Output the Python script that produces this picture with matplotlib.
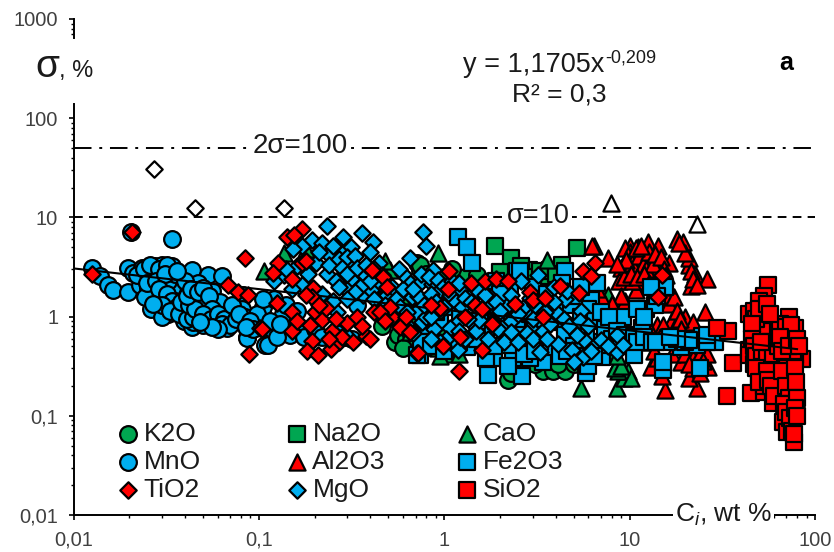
import matplotlib
matplotlib.use('Agg')
import matplotlib.pyplot as plt
from matplotlib.legend import Legend

plt.rcParams['font.family'] = ['Liberation Sans', 'DejaVu Sans']
plt.rcParams['mathtext.fontset'] = 'custom'
plt.rcParams['mathtext.rm'] = 'Liberation Sans'
plt.rcParams['mathtext.it'] = 'Liberation Sans:italic'

# values: C_i (wt %), sigma (%)
k2o_x = [.46, .54, .71, .74, .74, 1.21, 2.2, 3.43, 3.85, 4.5, .68, 4.7, .98, .84,
         .56, .62, .7, .6, .75, .65, .8, 1, 1.3, 2.3, 3.1, 4.1, 5, 1.5, 1.1]
k2o_y = [.81, .56, 3.5, 2.98, 3.35, 2.37, .23, .28, .28, .28, .61, .55, .77, 1.42,
         .65, .6, .55, .48, .48, .7, 2.7, 2.5, 2.5, .27, .33, .33, .33, 2.6, 3.0]

na2o_x = [1.88, 5.2, 2.3, 2.85, 3.7, 4.3, 3.65, 2.25, 2, 2.6, 3, 3.3, 4]
na2o_y = [5.1, 4.9, 3.94, 2.98, 2.98, 3.35, 2.54, 2.66, 2.8, 3.2, 2.5, 2.9, 2.7]

cao_x = [.107, .137, .51, .59, .76, .93, 3.6, .77, .84, 5.5, .87, 8.6, 9.3, 9.8, 8.7, 10.2, 8.7, 7.6, 6.9, 7.0,
         .18, .48, .43, .55, .62, .68, .8, .85, .9, .93, 1, 1.05, .95, 1.2, .65, .72, 7.2, 8.3, 9, 7.6, 8, 8.5]
cao_y = [2.85, 4.4, 2.98, 1.59, .66, 4.4, 3.76, .66, .49, .19, .89, .19, .24, .28, .28, .24, .35, 1.67, 1.0, 1.32,
         4.8, 3.6, 2.3, 1.25, 1.1, .95, 1.05, .72, .62, .48, .55, .42, .4, .42, .7, 1.35, 1.15, .3, .32, 1.1, .45, .4]

mno_x = [.0126, .0139, .0154, .0163, .0197, .0209, .0234, .0275, .03, .034, .0197, .0228, .0252, .0275,
         .0297, .0262, .0323, .0384, .0373, .034, .0435, .0532, .047, .056, .0632, .0617, .0393, .0435,
         .0441, .07, .0851, .0532, .0595, .0672, .0743, .0862, .0822, .104, .108, .034, .0204, .0398,
         .047, .0352, .03, .0243, .0323, .0252, .0352, .0398, .0435, .05, .0715, .081, .084, .086, .105,
         .112, .119, .098, .135, .147, .172, .317, .34,
         .022, .024, .026, .029, .032, .025, .028, .031, .036, .029, .032, .034, .036, .03, .027, .033, .037,
         .041, .044, .038, .042, .045, .041, .043, .047, .05, .054, .056, .05, .055, .06, .065, .063, .07,
         .075, .072, .078, .09, .093, .085, .06, .05, .056, .048, .115, .125, .13, .16, .175, .2, .14, .16,
         .22, .26, .29, .12, .105]
mno_y = [3.12, 2.54, 2.1, 1.87, 3.12, 2.78, 3.12, 3.2, 3.35, 3.2, 1.75, 2.1, 1.92, 2.54, 1.52, 1.18, 1.07,
         1.59, 1.79, 1.96, 2.98, 2.6, 2.2, 1.83, 2.54, 1.39, .91, .79, .89, .93, .98, 1.05, .87, .77, 1.18,
         .63, 1.67, 1.12, .52, 6.0, 7.2, 1.18, 1.39, 1.42, .98, 1.56, 2.26, 2.85, 2.66, 2.26, 1.67, 1.48,
         1.1, 1.18, .98, .61, 1.26, .52, .74, 1.05, 1.05, .66, .66, .59, 1.32,
         2.6, 3.0, 3.3, 3.0, 3.3, 2.2, 2.3, 2.7, 2.9, 1.9, 1.7, 1.45, 1.25, 1.3, 1.35, 1.15, 1.05,
         .95, 1.0, 1.4, 1.3, 1.2, 1.6, 1.9, 1.75, 1.95, 1.6, 1.2, 1.05, .95, 1.05, .95, .85, .82,
         .95, 1.3, 1.05, .9, .75, .78, .75, .82, .78, .88, .9, .62, .85, .8, .62, .75, 1.3, 1.15,
         .62, .68, .62, 1.5, 1.5]

al2o3_x = [6.4, 7.6, 10.1, 12.5, 14.3, 18, 19.4, 11.1, 9.9, 13.1, 16.3, 21, 22.5, 26, 21.4, 10.8, 16.4, 9.4,
           8, 25.4, 20, 22, 17, 14, 15.2, 15.5, 23, 13, 21, 26.5, 19, 10.5, 9, 8.8, 12, 14, 14.3, 11.6,
           10.3, 16.2, 17.3, 21, 10, 11.1, 24, 6.3,
           9.5, 9.8, 10.3, 10.6, 11.3, 11.8, 12.3, 12.8, 13.3, 13.7, 14.7, 15.3, 15.8, 9.3, 9.6, 10.2, 11, 12,
           12.7, 13.5, 14.5, 15, 16, 8.6, 10.8, 11.5, 20, 21.5, 22, 23, 18.5, 7, 6.7, 9, 17.5, 18, 18.8, 19,
           13, 14.5, 11, 12, 17, 20, 22, 24, 26, 14, 13.5, 15, 22, 24, 25, 21, 8, 6, 6.5]
al2o3_y = [5.1, 3.94, 5.1, 5.6, 5.1, 6.1, 5.7, 3.5, 2.85, 2.54, 3.5, 3.35, 2.66, 2.37, 2.05, 1.87, 1.35, 1.42,
           1.35, 1.12, 1.0, .89, .93, .83, .83, .18, .19, .31, .24, .31, .35, 4, 3.1, 2.26, 4, 3.6, 3,
           2.26, 2.26, 1.67, 1.56, 3.94, 4.5, 5, .37, 5.1,
           4.9, 4.2, 3.5, 3.1, 4.1, 3.3, 3.0, 4.5, 3.4, 4.3, 4.0, 3.0, 2.6, 2.5, 3.7, 2.7, 2.5, 2.7,
           2.2, 2.1, 2.3, 2.0, 2.1, 3.4, 4.9, 5.2, 4.4, 2.9, 2.4, 2.1, 5.5, 1.6, 1.9, 1.6, .78, 1.15, .95, .75,
           .7, .62, .72, .55, .42, .42, .38, .42, .42, .38, .45, .25, .3, .27, .36, .33, 1.35, 1.4, 1.15]

fe2o3_x = [1.18, 1.33, 1.41, 2.47, 2.57, 4.5, 1.85, 2.35, 1.72, 2.63, 3.43, 5.8, 6.3, 6.2, 1.07, 1.21, 2.25,
           2.47, 3.3, 4.05, 5.2, .74, .72, 1.33, 2.1, 1.67, 3.85, 2.25, 2.9, .95, 1.67, 2.9, .71, 6.7, 9.2,
           12.2, 13.7, 11.6, 12.5, 10, 15.6, 15.1, 15.1, 24, 18.9, 24.6, 23, 28.7, 7.1, 6.7, 16, 7.8, 10.6,
           1.5, 1.7, 1.9, 2.05, 2.2, 2.7, 2.7, 3.1, 3.3, 3.5, 4.2, 4.5, 4.8, 5, 5.5, 5.8, 6, 6.5, 7, 7.4, 7.7,
           8, 8.5, 9, 9.4, 10.5, 11, 11, 12, 12, 13.2, 13.8, 14, 13, 20, 21, 26, 26, 18, 16.5, 3, 3.6, 4.3,
           5, 5.5, 1.9, 1.4, 2, 1, .9, .8, .75, .85, 1, 1.2, 1.5, 1.85, 2.2, 2.7, 3.1, 4.2, 4.6, 5.5, 6, 6.4]
fe2o3_y = [6.4, 5.0, 3.43, 2.91, 2.85, 2.85, .385, .385, .26, .25, .35, .27, .52, 1.48, 1.67, 1.05, 1.87,
           .89, 1.32, .89, .77, .41, 1.42, .49, .98, .66, .49, .52, 1.05, .89, .385, .385, .41, 2.2, .98,
           1.18, 1.32, .77, .56, .55, 2, .29, .35, .3, .49, .64, .52, .55, .39, .56, .55, .52, .41,
           .9, 1.1, .9, 1.25, .75, 1.1, .65, .8, .55, .95, 1.15, .65, 1.3, .5, 1.0, .7, 1.2, .9, 1.1, .75, 1.0,
           .6, .72, .55, .65, .62, .55, 1.2, .98, .62, .56, .56, 1.6, 2, .55, .58, .55, .65, .6, .62, 2.0, 1.7, 2.2,
           1.6, 2, 2.3, 1.7, 1.7, 1.25, 1.1, .8, .55, .5, .45, .55, .6, .5, .32, .42, .45, .4, .45, .4, .32, .4]

sio2_x = [33.5, 36, 33.8, 29.5, 56, 53, 50, 53, 50, 52, 44, 51, 45, 53, 50, 59, 53, 72, 74, 67, 85, 75, 75,
          75, 77, 75, 68, 71, 62, 67, 71, 67, 78, 76, 55, 44, 53, 61, 74, 44, 78, 68, 47,
          47, 48, 50, 46, 46, 47, 48, 52, 55, 48, 55, 50, 56, 58, 60, 57, 59, 63, 63, 65, 67, 69, 71, 73, 66,
          70, 72, 74, 68, 70, 73, 75, 70, 74, 76, 78, 79, 80, 78, 80, 77, 55, 57, 51, 65, 66, 72, 80, 82]
sio2_y = [.16, .34, .71, .77, 2.1, 1.63, 1.42, .89, .71, .56, .46, .33, .17, .175, .24, .135, .2, .98, .61,
          .39, .37, .24, .165, .081, .055, .115, .71, .44, .35, .087, .069, .165, .77, .56, .71, 1.05, 1.12,
          .28, .33, .41, .41, .52, .33,
          1.15, .95, 1.2, .85, .6, .5, .4, .45, .4, .3, .28, .22, .23, .2, .16, .55, .42, .5, .7, .85, .6, .4, .3, .25, .28,
          .2, .15, .13, .13, .11, .095, .07, .78, .82, .45, .3, .22, .15, .12, .1, .065, 1.35, 1.05, .55, .62, .45, .5, .6, .5]

mgo_x = [.233, .36, .286, .415, .193, .17, .315, .40, .28, .203, .445, .31, .233, .136, .183, .12, .315, .365,
         .44, .365, .49, .405, .264, .25, .3, .77, .8, .65, .65, .67, .74, .7, .67, .76, .815, .153, .24,
         .87, .86, 1.22, 1.5, 1.76, 2.2, 2.6, 3.2, 2.65, 4, 4.5, 5.5, .8, .8, 1.18, 1.07, 1.49, 1.8, 1.54,
         1.72, 2.1, 2.8, 3.4, 4.1, 5.7, 4.9, 5.6, 5, 3.3, 1.18, .68, .93, 1.07, 8.6, 8.6,
         .16, .14, .22, .25, .21, .24, .27, .3, .33, .28, .26, .3, .27, .34, .38, .42, .4, .35, .33, .46, .52, .48,
         .42, .3, .22, .17, .15, .55, .58, .6, .6, .57, .63, .72, .78, .85, .9, .95, .75, .83, .92, 1.0, 1.1, 1.15,
         1.0, 1.25, 1.3, 1.4, 1.35, 1.2, 1.3, 1.02, .88, .95, .85, 1.65, 1.9, 2.0, 1.95, 2.3, 2.5, 2.3, 2.5, 3.0,
         3.1, 3.5, 3.7, 3.0, 3.6, 3.9, 4.4, 4.7, 5.2, 5.4, 6, 6.2, 7, 7.6, 9.2, 3.9, 4.6, 2.9, 2.3, 1.65, 1.2, .68,
         .62, .85]
mgo_y = [8.1, 7.0, 6.3, 5.7, 5.9, 5.2, 5.0, 4.5, 4.3, 3.43, 3.5, 3.3, 2.66, 2.6, 2.66, 2.26, 2.37, 2.72,
         2.1, 1.67, 1.67, 1.87, 1.12, 1.42, 1.87, 7.2, 5.1, 3.94, 2.2, 1.56, 2.2, 1.1, .71, .89, 1.32, 4.76, 4.2,
         2.98, 2.15, 1.87, 1.87, 1.59, 1.32, 2.26, 2.6, 1.23, 1.12, 1.52, 1.15, 1.32, .98, .89, .77, .71, .89, .93,
         .59, .55, .69, .71, .53, .58, .46, .39, .35, .44, .46, .69, 1.79, 1.67, .44, .66,
         3.2, 3.0, 5.5, 5.1, 4.5, 3.3, 3.8, 4.0, 4.1, 3.1, 2.3, 2.7, 2.0, 3.1, 3.3, 3, 2.3, 2.0, 1.75, 2.6, 2.0, 1.3,
         1.5, 1.5, 1.7, 2.1, 1.9, 1.5, 1.25, 1.9, 2.7, 3.0, 1.1, 1.6, 1.3, 1.7, 1.4, 1.15, 2.7, 2.5, 2.35, 2.05, 2.3, 1.4,
         1.25, 1.25, 1.55, 1.4, .95, .72, .6, .6, .75, .55, 1.0, 1.25, 1.4, 1.15, .75, .9, 1.05, .7, .55, .95,
         1.3, 1.1, .85, .6, .6, 1.4, .95, .8, .65, .9, .8, .45, .58, .5, .52, 2.0, 1.8, 1.55, 1.65, 1.65, 2.2, 1.9,
         .85, .6]

tio2_x = [.0126, .0207, .084, .068, .077, .0873, .101, .0886, .142, .17, .127, .17, .197, .125, .151, .104,
          .151, .188, .2, .22, .23, .193, .181, .208, .247, .27, .244, .3, .34, .376, .42, .52, .575, .51,
          .71, .193, .41, .47, .49, .151, .119, 1.06, 1.4, 1.65, 1.9, 2.2, 2.9, 3, 5.3, 5.6, 6.5, 6.2, 1.46,
          .95, 1.21, .72, .99, 1.6, 1.2, 1.6, 15, 14.2,
          .21, .18, .16, .26, .28, .24, .32, .36, .4, .45, .48, .62, .65, 1.3, .85, 1.8, 2.4, 3.4, 4.2, 3.5,
          1.05, .18, .155]
tio2_y = [2.66, 7.1, 3.94, 2.1, 1.79, 1.67, .77, .42, 6.3, 7.6, 3.43, 3.5, 1.96, 1.38, 1.12, .75, .71, .83,
          1.12, .93, 1.23, .57, .45, .41, .71, .56, .47, .87, .98, .64, 1.12, 1.0, .79, 1.26, .43, 1.56,
          2.98, 2.48, 2.0, 2.37, 2.78, 2.91, 2.2, 2.26, 2.42, 2.31, 1.79, 1.48, 1.71, 2.91, 3.43, 2.54, 1.32,
          1.23, .63, .43, .5, .46, .28, 1.18, 2.6, 1.56,
          1.3, 1.65, .9, .95, .62, .6, .55, .8, .6, 1.1, .9, 1.0, .7, 1.0, 1.3, .85, 1.35, 1.0, 2.05, 1.55,
          1.9, 3.6, 6.6]

open_diamond_x = [.0272, .0452, .136]
open_diamond_y = [30.5, 12.3, 12.3]
open_triangle_x = [7.9, 23]
open_triangle_y = [13.9, 8.5]

trend_x = [.01, 80]
trend_y = [3.06, .47]

xtick_vals = [.01, .1, 1, 10, 100]
xtick_labels = ['0,01', '0,1', '1', '10', '100']
ytick_vals = [.01, .1, 1, 10, 100, 1000]
ytick_labels = ['0,01', '0,1', '1', '10', '100', '1000']

GREEN = '#00a651'
BLUE = '#00aeef'
RED = '#ff0000'

W, H = 834, 552
fig = plt.figure(figsize=(W / 100, H / 100), dpi=100)
ax = fig.add_axes([73.5 / W, 1 - 515 / H, (815 - 73.5) / W, (515 - 19) / H])
ax.set_xscale('log')
ax.set_yscale('log')
ax.set_xlim(.01, 100)
ax.set_ylim(.01, 1000)


def pts(xs, ys, marker, color, size, z):
    return ax.scatter(xs, ys, marker=marker, s=size, facecolor=color, edgecolor='black',
                      linewidth=1.6, zorder=z, clip_on=False)


h_k = pts(k2o_x, k2o_y, 'o', GREEN, 145, 3)
h_na = pts(na2o_x, na2o_y, 's', GREEN, 140, 3.1)
h_ca = pts(cao_x, cao_y, '^', GREEN, 135, 3.2)
h_mn = pts(mno_x, mno_y, 'o', BLUE, 145, 3.3)
h_al = pts(al2o3_x, al2o3_y, '^', RED, 135, 3.4)
h_fe = pts(fe2o3_x, fe2o3_y, 's', BLUE, 140, 3.5)
h_si = pts(sio2_x, sio2_y, 's', RED, 140, 3.6)
h_mg = pts(mgo_x, mgo_y, 'D', BLUE, 70, 3.7)
h_ti = pts(tio2_x, tio2_y, 'D', RED, 70, 4)
pts(open_diamond_x, open_diamond_y, 'D', 'white', 70, 4)
pts(open_triangle_x, open_triangle_y, '^', 'white', 135, 4)

ax.plot(trend_x, trend_y, color='black', lw=1.5, zorder=3.9)
ax.axhline(50, color='black', lw=1.4, dashes=(9, 4, 1.5, 4), zorder=2)
ax.axhline(10, color='black', lw=1.4, dashes=(4.5, 3.2), zorder=2)

# axis with the gap between 138 and 640
for s in ['top', 'right']:
    ax.spines[s].set_visible(False)
ax.spines['left'].set_bounds(.01, 138)
ax.spines['left'].set_linewidth(1.4)
ax.spines['bottom'].set_linewidth(1.4)
ax.plot([.01, .01], [640, 1000], color='black', lw=1.4, clip_on=False, zorder=2)

y_minor = [m * 10.0 ** e for e in range(-2, 2) for m in range(2, 10)] + [700, 800, 900]
x_minor = [m * 10.0 ** e for e in range(-2, 2) for m in range(2, 10)]
ax.set_xticks(xtick_vals, xtick_labels)
ax.set_yticks(ytick_vals, ytick_labels)
ax.set_xticks(x_minor, minor=True)
ax.set_yticks(y_minor, minor=True)
ax.tick_params(which='major', length=3.5, width=1.2, labelsize=14.5, labelcolor='#404040')
ax.tick_params(which='minor', length=2.2, width=1.0, labelbottom=False, labelleft=False)
ax.tick_params(axis='x', which='major', pad=8)
ax.tick_params(axis='y', which='major', pad=7.5)


def label(px, py, s, size, **kw):
    kw.setdefault('color', '#1a1a1a')
    return fig.text(px / W, 1 - py / H, s, fontsize=size, va='baseline', **kw)


label(35, 77, 'σ', 28)
label(59, 77, ', %', 17)
label(463, 72, 'y = 1,1705x', 19.5)
label(605, 62, '-0,209', 13)
label(512, 102, 'R² = 0,3', 19)
label(779, 70, 'a', 18, fontweight='bold', color='black')

white = dict(facecolor='white', edgecolor='none', pad=1.5)
label(253, 153, '2σ=100', 20, bbox=white, zorder=5)
label(507, 223, 'σ=10', 19.5, bbox=white, zorder=5)
label(675, 522, r'C$_{i}$, wt %', 19, bbox=white, zorder=5)

# legend: one block per column, they are not evenly fed by the text widths
columns = [([h_k, h_mn, h_ti], ['K2O', 'MnO', 'TiO2'], 117),
           ([h_na, h_al, h_mg], ['Na2O', 'Al2O3', 'MgO'], 286),
           ([h_ca, h_fe, h_si], ['CaO', 'Fe2O3', 'SiO2'], 456)]
for handles, names, left in columns:
    leg = Legend(ax, handles, names, loc='upper left', frameon=False, fontsize=19,
                 labelcolor='#1a1a1a', handlelength=.85, handletextpad=.15, labelspacing=.15,
                 borderpad=0, borderaxespad=0, scatterpoints=1,
                 bbox_to_anchor=((left - 73.5) / (815 - 73.5), (515 - 422) / (515 - 19)))
    ax.add_artist(leg)

fig.savefig('out.png', dpi=100)
